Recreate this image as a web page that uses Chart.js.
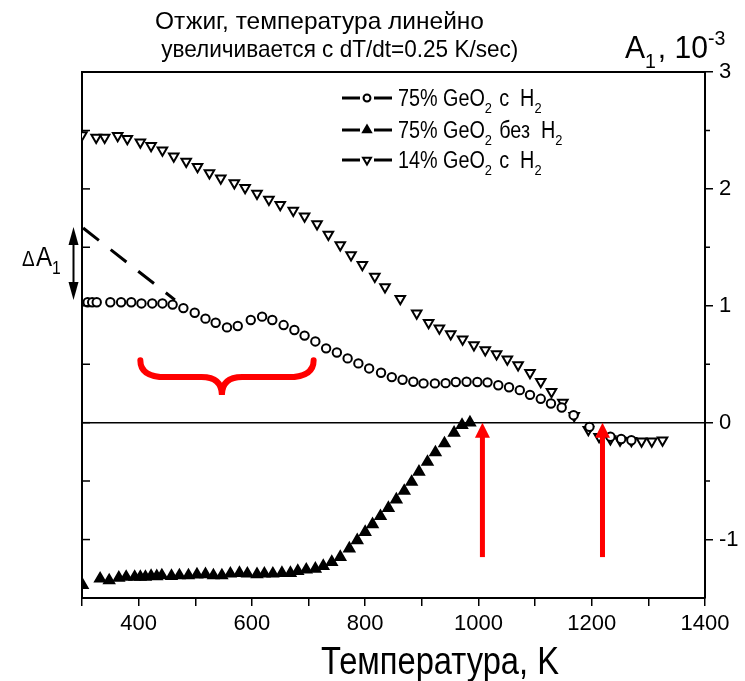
<!DOCTYPE html>
<html>
<head>
<meta charset="utf-8">
<script src="https://cdn.jsdelivr.net/npm/chart.js@4.4.1/dist/chart.umd.min.js"></script>
<style>
  html, body { margin: 0; padding: 0; background: #fff; }
  .chart-box { width: 745px; height: 681px; }
</style>
</head>
<body>
<div class="chart-box"><canvas id="annealChart"></canvas></div>
<script>
// 75% GeO2 с H2 (open circles)
const circ_T = [310, 318, 326, 350, 369, 387, 405, 424, 442, 460, 479, 499, 518, 536, 556, 575, 598, 618, 636, 656,
  675, 693, 712, 731, 750, 769, 788, 807, 828, 847, 866, 885, 903, 923, 942, 960, 979, 998, 1016, 1035,
  1054, 1073, 1091, 1110, 1128, 1147, 1168, 1196, 1233, 1252, 1270];
const circ_A = [1.03, 1.03, 1.03, 1.03, 1.03, 1.03, 1.02, 1.02, 1.02, 1.01, 0.98, 0.94, 0.89, 0.855, 0.815, 0.827, 0.878, 0.907, 0.878, 0.835,
  0.793, 0.745, 0.695, 0.636, 0.6, 0.55, 0.507, 0.464, 0.427, 0.39, 0.367, 0.35, 0.336, 0.336, 0.338, 0.348, 0.35, 0.348, 0.345, 0.32,
  0.303, 0.278, 0.238, 0.204, 0.164, 0.13, 0.064, -0.036, -0.12, -0.14, -0.15];

// 75% GeO2 без H2 (filled triangles)
const fill_T = [301, 332, 348, 365, 378, 393, 403, 412, 422, 432, 441, 458, 472, 488, 503, 518, 532, 547, 562, 578,
  592, 609, 622, 637, 653, 668, 681, 696, 712, 726, 741, 756, 772, 786, 800, 813, 827, 841, 855, 869,
  882, 895, 910, 924, 940, 957, 971, 985];
const fill_A = [-1.39, -1.335, -1.35, -1.327, -1.32, -1.32, -1.32, -1.32, -1.313, -1.315, -1.307, -1.313, -1.307, -1.307, -1.3, -1.298, -1.307, -1.307, -1.292, -1.287,
  -1.292, -1.298, -1.292, -1.292, -1.287, -1.287, -1.27, -1.258, -1.25, -1.227, -1.193, -1.15, -1.078, -1.007, -0.936, -0.87, -0.8, -0.73, -0.658, -0.584,
  -0.507, -0.42, -0.336, -0.255, -0.178, -0.087, -0.02, 0.0];

// 14% GeO2 с H2 (open down triangles)
const down_T = [300, 325, 340, 363, 380, 403, 422, 442, 462, 484, 504, 525, 545, 569, 588, 609, 630, 650, 673, 693,
  715, 735, 756, 775, 795, 817, 835, 862, 891, 912, 931, 951, 972, 992, 1012, 1032, 1051, 1070, 1091, 1110,
  1129, 1149, 1169, 1194, 1213, 1233, 1250, 1270, 1288, 1306, 1325];
const down_A = [2.46, 2.44, 2.44, 2.455, 2.43, 2.4, 2.37, 2.33, 2.28, 2.235, 2.19, 2.135, 2.09, 2.05, 2.01, 1.96, 1.91, 1.865, 1.815, 1.765,
  1.7, 1.61, 1.52, 1.435, 1.35, 1.25, 1.16, 1.06, 0.936, 0.855, 0.807, 0.758, 0.713, 0.664, 0.621, 0.587, 0.542, 0.493, 0.427, 0.35,
  0.264, 0.173, 0.06, -0.06, -0.12, -0.14, -0.15, -0.155, -0.16, -0.16, -0.15];

// dashed extrapolation line
const dash_T = [302, 464];
const dash_A = [1.665, 1.05];

// annotations (data coordinates)
const deltaArrow_T = 285;
const deltaArrow_A = [1.675, 1.05];
const brace_T = [403, 547, 709];
const brace_A = [0.535, 0.39, 0.236];
const redArrow_T = [1007, 1219];
const redArrow_A = [0, -1.15];

// legend labels: [text, 'sub' | null]
const legend_labels = [
  [["75% GeO", null], ["2", "sub"], [" с  H", null], ["2", "sub"]],
  [["75% GeO", null], ["2", "sub"], [" без  H", null], ["2", "sub"]],
  [["14% GeO", null], ["2", "sub"], [" с  H", null], ["2", "sub"]],
];
const title_lines = ["Отжиг, температура линейно", " увеличивается с dT/dt=0.25 K/sec)"];
const x_title = "Температура, K";

const FONT = "'Liberation Sans', Arial, sans-serif";
const SQUEEZE = 0.86; // the original uses a condensed face

function toXY(xs, ys) {
  return xs.map((x, i) => ({ x: x, y: ys[i] }));
}

// draw text with sub/superscripts, horizontally condensed
function drawRich(ctx, parts, x, y, size, squeeze) {
  ctx.save();
  ctx.translate(x, y);
  ctx.scale(squeeze, 1);
  let cx = 0;
  for (const [txt, kind] of parts) {
    const fs = kind ? size * 0.65 : size;
    ctx.font = `${fs}px ${FONT}`;
    let dy = 0;
    if (kind === "sub") dy = size * 0.3;
    if (kind === "sup") dy = -size * 0.42;
    ctx.fillText(txt, cx, dy);
    cx += ctx.measureText(txt).width + (kind === "sub" ? 2 : 0);
  }
  ctx.restore();
}

function drawMarker(ctx, kind, x, y, r) {
  ctx.save();
  ctx.lineWidth = 2;
  ctx.strokeStyle = "#000";
  ctx.beginPath();
  if (kind === "circle") {
    ctx.arc(x, y, r * 0.75, 0, Math.PI * 2);
    ctx.fillStyle = "#fff";
  } else {
    const dir = kind === "up" ? -1 : 1;
    ctx.moveTo(x, y + dir * r);
    ctx.lineTo(x + r * 0.866, y - dir * r * 0.5);
    ctx.lineTo(x - r * 0.866, y - dir * r * 0.5);
    ctx.closePath();
    ctx.fillStyle = kind === "up" ? "#000" : "#fff";
  }
  ctx.fill();
  ctx.stroke();
  ctx.restore();
}

function arrowHead(ctx, x, y, w, h, dir) {
  // dir -1 points up, +1 points down
  ctx.beginPath();
  ctx.moveTo(x, y);
  ctx.lineTo(x - w / 2, y - dir * h);
  ctx.lineTo(x + w / 2, y - dir * h);
  ctx.closePath();
  ctx.fill();
}

const extrasPlugin = {
  id: "extras",
  afterDraw(chart) {
    const ctx = chart.ctx;
    const area = chart.chartArea;
    const xs = chart.scales.x;
    const ys = chart.scales.y;
    ctx.save();

    // top frame
    ctx.strokeStyle = "#000";
    ctx.lineWidth = 2;
    ctx.beginPath();
    ctx.moveTo(area.left, area.top);
    ctx.lineTo(area.right + 1, area.top);
    ctx.stroke();

    // zero line
    ctx.lineWidth = 1.5;
    const y0 = ys.getPixelForValue(0);
    ctx.beginPath();
    ctx.moveTo(area.left, y0);
    ctx.lineTo(area.right, y0);
    ctx.stroke();

    // inward ticks on left axis, short minor ticks on right axis
    for (let v = -1; v < 3; v += 0.5) {
      const py = ys.getPixelForValue(v);
      ctx.beginPath();
      ctx.moveTo(area.left, py);
      ctx.lineTo(area.left + 8, py);
      if (!Number.isInteger(v)) {
        ctx.moveTo(area.right, py);
        ctx.lineTo(area.right + 5, py);
      }
      ctx.stroke();
    }

    // delta A1 double arrow
    ctx.fillStyle = "#000";
    const ax = xs.getPixelForValue(deltaArrow_T);
    const aTop = ys.getPixelForValue(deltaArrow_A[0]);
    const aBot = ys.getPixelForValue(deltaArrow_A[1]);
    ctx.lineWidth = 2;
    ctx.beginPath();
    ctx.moveTo(ax, aTop + 10);
    ctx.lineTo(ax, aBot - 10);
    ctx.stroke();
    arrowHead(ctx, ax, aTop, 10, 18, -1);
    arrowHead(ctx, ax, aBot, 10, 18, 1);
    ctx.textBaseline = "alphabetic";
    ctx.textAlign = "left";
    drawRich(ctx, [["Δ", null]], 22, 266, 22, SQUEEZE);
    drawRich(ctx, [["A", null], ["1", "sub"]], 36, 266, 28, SQUEEZE);

    // red brace
    const bx0 = xs.getPixelForValue(brace_T[0]);
    const bxc = xs.getPixelForValue(brace_T[1]);
    const bx1 = xs.getPixelForValue(brace_T[2]);
    const byTip = ys.getPixelForValue(brace_A[0]);
    const byMid = ys.getPixelForValue(brace_A[1]);
    const byPt = ys.getPixelForValue(brace_A[2]);
    const r = byMid - byTip;
    ctx.strokeStyle = "#ff0000";
    ctx.lineWidth = 6;
    ctx.lineCap = "round";
    ctx.beginPath();
    ctx.moveTo(bx0, byTip);
    ctx.quadraticCurveTo(bx0, byMid, bx0 + r * 1.5, byMid);
    ctx.lineTo(bxc - r * 1.2, byMid);
    ctx.quadraticCurveTo(bxc, byMid, bxc, byPt);
    ctx.quadraticCurveTo(bxc, byMid, bxc + r * 1.2, byMid);
    ctx.lineTo(bx1 - r * 1.5, byMid);
    ctx.quadraticCurveTo(bx1, byMid, bx1, byTip);
    ctx.stroke();
    ctx.lineCap = "butt";

    // red arrows
    ctx.fillStyle = "#ff0000";
    for (const t of redArrow_T) {
      const px = xs.getPixelForValue(t);
      const top = ys.getPixelForValue(redArrow_A[0]);
      const bot = ys.getPixelForValue(redArrow_A[1]);
      ctx.fillRect(px - 2.5, top + 14, 5, bot - top - 14);
      arrowHead(ctx, px, top, 15, 15, -1);
    }

    // legend
    const kinds = ["circle", "up", "down"];
    const rowY = [98, 130, 160];
    ctx.strokeStyle = "#000";
    for (let i = 0; i < 3; i++) {
      ctx.lineWidth = 3;
      ctx.beginPath();
      ctx.moveTo(342, rowY[i]);
      ctx.lineTo(360, rowY[i]);
      ctx.moveTo(374, rowY[i]);
      ctx.lineTo(392, rowY[i]);
      ctx.stroke();
      drawMarker(ctx, kinds[i], 367, rowY[i], 4.6);
      ctx.fillStyle = "#000";
      drawRich(ctx, legend_labels[i], 398, rowY[i] + 8, 23, SQUEEZE);
    }

    // title
    drawRich(ctx, [[title_lines[0], null]], 155, 29, 24, 1.02);
    drawRich(ctx, [[title_lines[1], null]], 155, 57, 24, 0.94);

    // right axis title
    drawRich(ctx, [["A", null], ["1", "sub"], [", 10", null], ["-3", "sup"]], 625, 58, 32, 0.94);

    // x axis title
    ctx.save();
    ctx.font = `38px ${FONT}`;
    const w = ctx.measureText(x_title).width * SQUEEZE;
    ctx.restore();
    drawRich(ctx, [[x_title, null]], 440 - w / 2, 674, 38, SQUEEZE);

    ctx.restore();
  },
};

const ctx = document.getElementById("annealChart").getContext("2d");

const pointBase = {
  showLine: false,
  borderColor: "#000",
  borderWidth: 2,
  clip: 0,
};

const chart = new Chart(ctx, {
  type: "scatter",
  data: {
    datasets: [
      {
        ...pointBase,
        label: "75% GeO2 с H2",
        data: toXY(circ_T, circ_A),
        pointStyle: "circle",
        pointRadius: 4.2,
        backgroundColor: "#fff",
      },
      {
        ...pointBase,
        label: "75% GeO2 без H2",
        data: toXY(fill_T, fill_A),
        pointStyle: "triangle",
        pointRadius: 5.8,
        backgroundColor: "#000",
      },
      {
        ...pointBase,
        label: "14% GeO2 с H2",
        data: toXY(down_T, down_A),
        pointStyle: "triangle",
        rotation: 180,
        pointRadius: 5.5,
        backgroundColor: "#fff",
      },
      {
        type: "line",
        label: "dash",
        data: toXY(dash_T, dash_A),
        borderColor: "#000",
        borderWidth: 3,
        borderDash: [20, 15],
        pointRadius: 0,
        fill: false,
      },
    ],
  },
  options: {
    responsive: true,
    maintainAspectRatio: false,
    animation: false,
    events: [],
    layout: { padding: { left: 82, top: 72, right: 0, bottom: 0 } },
    plugins: {
      legend: { display: false },
      tooltip: { enabled: false },
    },
    scales: {
      x: {
        type: "linear",
        position: "bottom",
        min: 300,
        max: 1400,
        afterFit: (scale) => { scale.height = 83; },
        ticks: {
          stepSize: 100,
          autoSkip: false,
          maxRotation: 0,
          color: "#000",
          padding: 5,
          font: { family: FONT, size: 22 },
          callback: (v) => (v % 200 === 0 ? v : ""),
        },
        grid: { drawOnChartArea: false, drawTicks: true, tickLength: 8, color: "#000", lineWidth: 1.5 },
        border: { color: "#000", width: 2 },
      },
      y: {
        position: "left",
        min: -1.5,
        max: 3,
        afterFit: (scale) => { scale.width = 0; },
        ticks: { display: false, stepSize: 0.5 },
        grid: { drawOnChartArea: false, drawTicks: false },
        border: { color: "#000", width: 2 },
      },
      y2: {
        position: "right",
        min: -1.5,
        max: 3,
        afterFit: (scale) => { scale.width = 40; },
        ticks: {
          stepSize: 0.5,
          color: "#000",
          padding: 6,
          font: { family: FONT, size: 22 },
          callback: (v) => (Number.isInteger(v) ? v : ""),
        },
        grid: {
          drawOnChartArea: false,
          drawTicks: true,
          tickLength: 8,
          color: "#000",
          lineWidth: 1.5,
          tickColor: (c) => (Number.isInteger(c.tick.value) ? "#000" : "rgba(0,0,0,0)"),
        },
        border: { color: "#000", width: 2 },
      },
    },
  },
  plugins: [extrasPlugin],
});
</script>
</body>
</html>
